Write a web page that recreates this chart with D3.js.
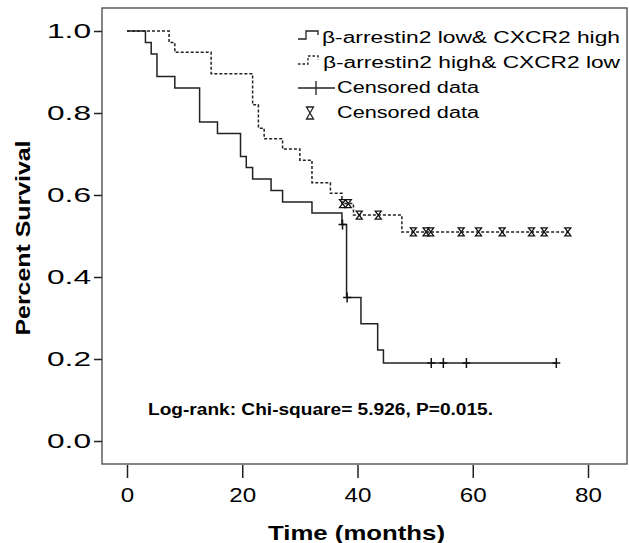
<!DOCTYPE html>
<html>
<head>
<meta charset="utf-8">
<script src="https://cdnjs.cloudflare.com/ajax/libs/d3/7.8.5/d3.min.js"></script>
<style>
  body { margin: 0; background: #fff; }
  svg { display: block; font-family: "Liberation Sans", Arial, sans-serif; }
</style>
</head>
<body>
<div id="chart"></div>
<script>
// Kaplan-Meier steps (time in months, survival after the drop)
const lowTimes = [0, 3.2, 4.2, 5.2, 8.3, 12.6, 15.7, 19.7, 20.7, 21.8, 25.0, 27.0, 32.1, 37.3, 38.1, 40.6, 43.5, 44.5];
const lowSurv  = [1.0, 0.972, 0.944, 0.889, 0.861, 0.778, 0.750, 0.694, 0.667, 0.639, 0.611, 0.583, 0.556, 0.528, 0.350, 0.286, 0.222, 0.190];
const lowCensor = [37.4, 38.2, 52.8, 54.9, 58.9, 74.5];

const highTimes = [0, 7.3, 8.3, 14.6, 21.8, 22.8, 23.8, 27.0, 30.0, 32.1, 35.3, 37.3, 39.3, 47.7];
const highSurv  = [1.0, 0.972, 0.948, 0.896, 0.820, 0.763, 0.737, 0.712, 0.685, 0.630, 0.604, 0.579, 0.551, 0.510];
const highCensor = [37.4, 38.4, 40.3, 43.6, 49.7, 51.9, 52.7, 58.0, 61.0, 65.1, 70.2, 72.4, 76.5];

const xTicks = [0, 20, 40, 60, 80];
const yTicks = [0, 0.2, 0.4, 0.6, 0.8, 1.0];
const legendLabels = ["β-arrestin2 low& CXCR2 high", "β-arrestin2 high& CXCR2 low", "Censored data", "Censored data"];

const W = 629, H = 543;
const frame = { left: 102, top: 8, right: 627, bottom: 464 };
const ink = "#222";

// the source picture is stretched sideways, so text gets widened
function stretch(sel, k) {
  sel.each(function () {
    const w = this.getComputedTextLength();
    d3.select(this).attr("textLength", w * k).attr("lengthAdjust", "spacingAndGlyphs");
  });
}

const svg = d3.select("#chart").append("svg")
    .attr("width", W)
    .attr("height", H);

const x = d3.scaleLinear().domain([0, 80]).range([127, 588]);
const y = d3.scaleLinear().domain([0, 1]).range([441, 31]);

// plot frame
svg.append("rect")
    .attr("x", frame.left)
    .attr("y", frame.top)
    .attr("width", frame.right - frame.left)
    .attr("height", frame.bottom - frame.top)
    .attr("fill", "none")
    .attr("stroke", "#444")
    .attr("stroke-width", 1.3);

// axes
const xAxis = svg.append("g")
    .attr("transform", `translate(0,${frame.bottom + 1})`)
    .call(d3.axisBottom(x).tickValues(xTicks).tickSize(13).tickPadding(9));
xAxis.select(".domain").remove();
xAxis.selectAll("line").attr("stroke", ink).attr("stroke-width", 1.5);
xAxis.selectAll("text").style("font-size", "21px").attr("fill", "#000")
    .attr("font-family", "Liberation Sans, Arial, sans-serif")
    .call(stretch, 1.15);

const yAxis = svg.append("g")
    .attr("transform", `translate(${frame.left},0)`)
    .call(d3.axisLeft(y).tickValues(yTicks).tickFormat(d3.format(".1f")).tickSize(8).tickPadding(3));
yAxis.select(".domain").remove();
yAxis.selectAll("line").attr("stroke", ink).attr("stroke-width", 1.5);
yAxis.selectAll("text").style("font-size", "21px").attr("fill", "#000")
    .attr("font-family", "Liberation Sans, Arial, sans-serif")
    .attr("textLength", 44).attr("lengthAdjust", "spacingAndGlyphs");

// axis titles
svg.append("text")
    .attr("x", 356.5)
    .attr("y", 540)
    .attr("text-anchor", "middle")
    .style("font-size", "21px")
    .style("font-weight", "bold")
    .attr("textLength", 177).attr("lengthAdjust", "spacingAndGlyphs")
    .text("Time (months)");

svg.append("text")
    .attr("transform", "translate(30,238) rotate(-90)")
    .attr("text-anchor", "middle")
    .style("font-size", "20px")
    .style("font-weight", "bold")
    .attr("textLength", 195).attr("lengthAdjust", "spacingAndGlyphs")
    .text("Percent Survival");

// survival curves
function stepPoints(times, surv, censor) {
  const pts = times.map((t, i) => [t, surv[i]]);
  pts.push([d3.max(censor), surv[surv.length - 1]]);
  return pts;
}
function survAt(times, surv, t) {
  let s = surv[0];
  times.forEach((tt, i) => { if (tt <= t) s = surv[i]; });
  return s;
}
const line = d3.line()
    .x(d => x(d[0]))
    .y(d => y(d[1]))
    .curve(d3.curveStepAfter);

svg.append("path")
    .datum(stepPoints(highTimes, highSurv, highCensor))
    .attr("d", line)
    .attr("fill", "none")
    .attr("stroke", ink)
    .attr("stroke-width", 1.5)
    .attr("stroke-dasharray", "3,2");

svg.append("path")
    .datum(stepPoints(lowTimes, lowSurv, lowCensor))
    .attr("d", line)
    .attr("fill", "none")
    .attr("stroke", ink)
    .attr("stroke-width", 1.5);

// censor marks
const plusPath = "M-4,0H4M0,-5V5";
const glassPath = "M-3,-4H3L-3,4H3Z";

svg.append("g").selectAll("path")
    .data(lowCensor)
    .enter()
    .append("path")
    .attr("transform", d => `translate(${x(d)},${y(survAt(lowTimes, lowSurv, d))})`)
    .attr("d", plusPath)
    .attr("fill", "none")
    .attr("stroke", "#111")
    .attr("stroke-width", 1.5);

svg.append("g").selectAll("path")
    .data(highCensor)
    .enter()
    .append("path")
    .attr("transform", d => `translate(${x(d)},${y(survAt(highTimes, highSurv, d))})`)
    .attr("d", glassPath)
    .attr("fill", "none")
    .attr("stroke", "#111")
    .attr("stroke-width", 1.3);

// annotation
svg.append("text")
    .attr("x", 320.5)
    .attr("y", 415)
    .attr("text-anchor", "middle")
    .style("font-size", "16px")
    .style("font-weight", "bold")
    .attr("textLength", 345).attr("lengthAdjust", "spacingAndGlyphs")
    .text("Log-rank: Chi-square= 5.926, P=0.015.");

// legend
const legY = [38, 63, 88, 113];
const legend = svg.append("g");
legend.append("path")
    .attr("d", `M298,${legY[0] + 1}H306V${legY[0] - 7}H318V${legY[0] - 3}`)
    .attr("fill", "none").attr("stroke", ink).attr("stroke-width", 1.3);
legend.append("path")
    .attr("d", `M298,${legY[1] + 1}H308V${legY[1] - 7}H318V${legY[1] - 3}`)
    .attr("fill", "none").attr("stroke", ink).attr("stroke-width", 1.3)
    .attr("stroke-dasharray", "2.5,2");
legend.append("path")
    .attr("d", `M298,${legY[2]}H335`)
    .attr("stroke", ink).attr("stroke-width", 1.3);
legend.append("path")
    .attr("transform", `translate(316,${legY[2]})`)
    .attr("d", "M0,-7V7")
    .attr("stroke", ink).attr("stroke-width", 1.3);
legend.append("path")
    .attr("transform", `translate(310,${legY[3]})`)
    .attr("d", "M-3.5,-6H3.5L-3.5,6H3.5Z")
    .attr("fill", "none").attr("stroke", ink).attr("stroke-width", 1.3);

const legX = [322, 323, 337, 337];
const legW = [298, 297, 142, 142];
legend.selectAll("text")
    .data(legendLabels)
    .enter()
    .append("text")
    .attr("x", (d, i) => legX[i])
    .attr("y", (d, i) => legY[i] + 5)
    .style("font-size", "16px")
    .attr("fill", "#000")
    .attr("textLength", (d, i) => legW[i])
    .attr("lengthAdjust", "spacingAndGlyphs")
    .text(d => d);
</script>
</body>
</html>
